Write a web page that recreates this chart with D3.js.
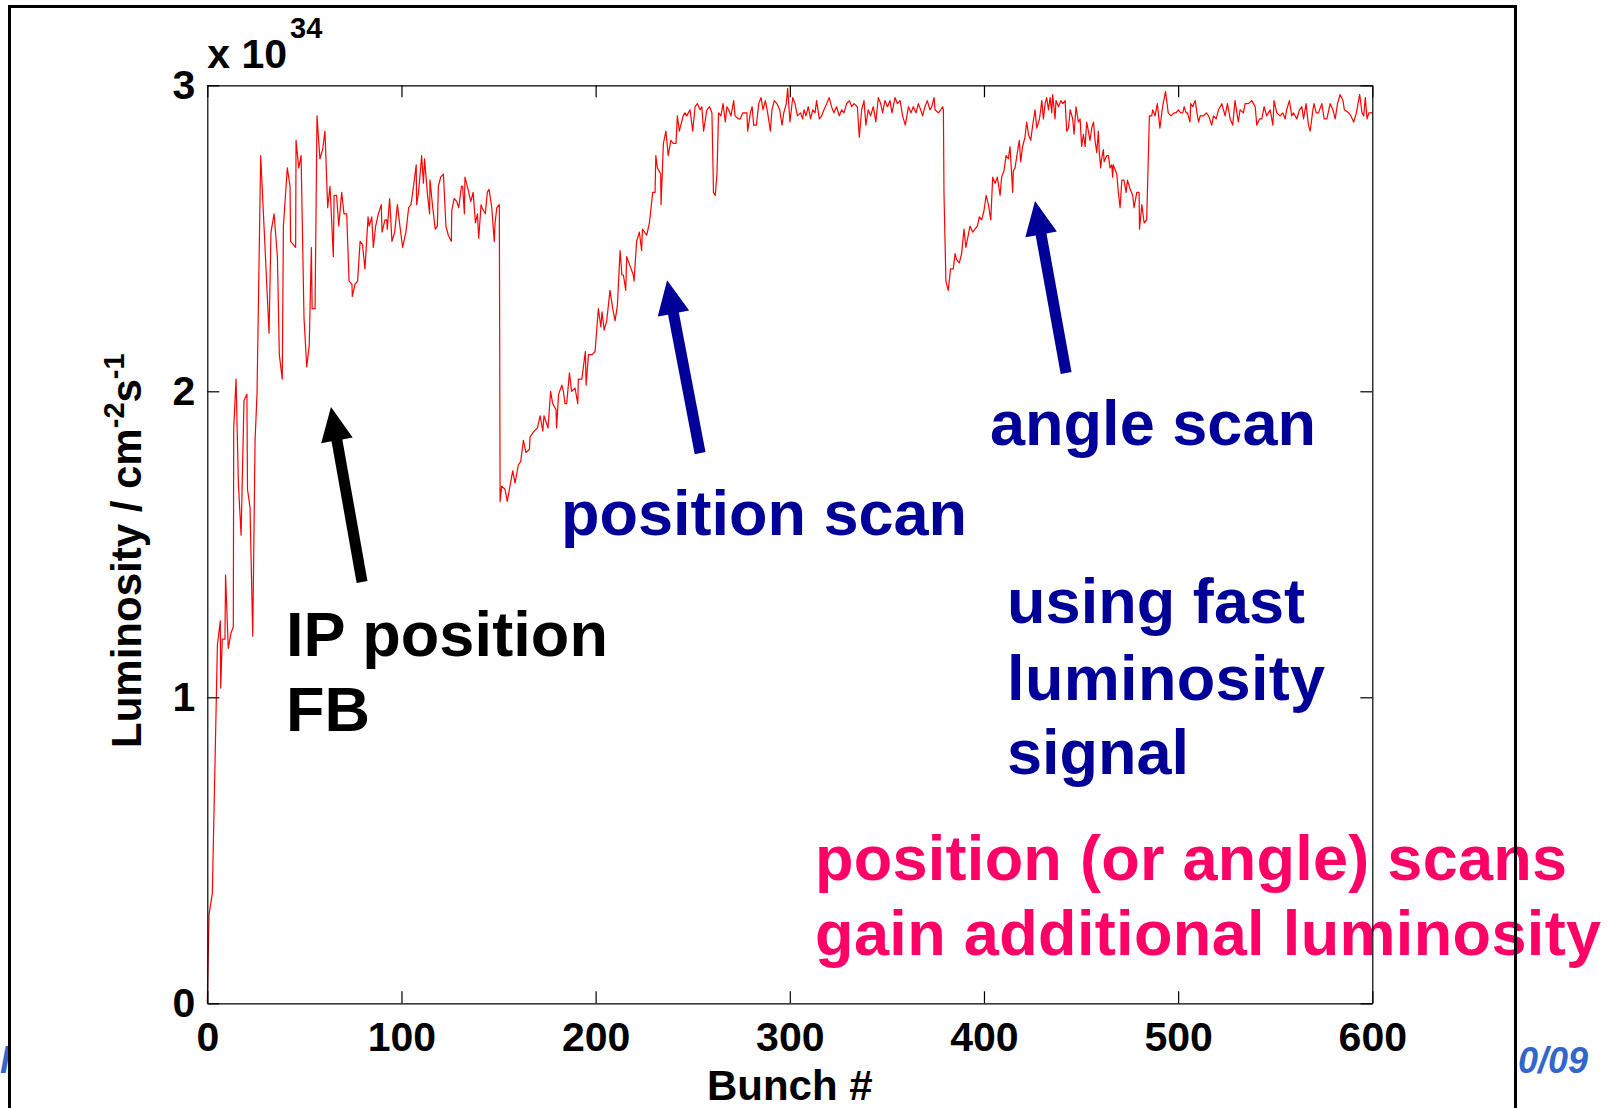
<!DOCTYPE html>
<html>
<head>
<meta charset="utf-8">
<title>Luminosity vs bunch number</title>
<script src="https://cdn.jsdelivr.net/npm/d3@7"></script>
<style>
  html, body { margin: 0; padding: 0; background: #fff; }
  svg { display: block; }
  text { font-family: "Liberation Sans", Arial, Helvetica, sans-serif; font-weight: bold; }
</style>
</head>
<body>
<svg id="chart" width="1614" height="1108"></svg>
<script>
// Luminosity per bunch (units of 1e34 cm^-2 s^-1), sampled along the bunch train.
const bunch = [
  0, 0.9, 2.6, 3.6, 5.2, 6.7, 6.9, 7.7, 9.1, 9.4, 10.8, 12.2, 13.4, 13.6, 14.8, 16.0, 17.4, 18.9, 20.4, 20.7,
  22.0, 23.4, 24.6, 25.6, 27.5, 31.8, 32.8, 34.4, 36.1, 37.1, 38.6, 39.2, 41.2, 42.6, 42.9, 45.5, 45.7, 47.1, 48.3, 49.8,
  51.2, 52.5, 53.6, 54.0, 55.5, 56.5, 58.0, 59.4, 60.6, 62.0, 63.2, 64.9, 65.3, 66.6, 67.7, 69.2, 70.4, 71.8, 73.0, 74.5,
  74.7, 76.1, 77.4, 78.7, 79.9, 81.2, 82.8, 83.4, 84.7, 85.5, 86.7, 88.1, 89.6, 90.0, 91.5, 92.4, 92.7, 93.9, 95.1, 96.5,
  97.9, 99.2, 100.6, 102.3, 103.7, 104.9, 106.4, 107.6, 107.8, 108.8, 110.4, 111.3, 111.9, 113.3, 114.5, 114.7, 116.1, 117.4, 118.5, 119.0,
  120.2, 121.6, 122.9, 124.1, 125.7, 125.9, 127.1, 128.5, 129.5, 130.9, 131.5, 132.4, 132.7, 134.3, 135.7, 136.9, 138.1, 139.1, 139.8, 141.0,
  141.5, 143.2, 144.2, 145.1, 146.5, 147.8, 148.2, 149.1, 150.4, 150.8, 151.6, 153.3, 154.5, 155.6, 157.3, 158.5, 160.2, 161.4, 162.8, 164.1,
  165.9, 166.2, 168.3, 170.0, 171.4, 172.8, 173.4, 175.5, 176.8, 177.9, 179.6, 179.9, 180.9, 182.6, 183.4, 184.2, 185.1, 186.5, 187.6, 189.4,
  190.8, 191.1, 192.9, 194.7, 195.1, 196.3, 198.2, 199.7, 201.4, 202.7, 203.3, 204.4, 205.7, 207.4, 208.8, 210.0, 211.2, 212.6, 213.5, 214.3,
  215.5, 216.0, 217.7, 219.4, 219.8, 221.1, 222.5, 223.7, 224.1, 226.3, 227.7, 229.4, 230.6, 231.0, 231.8, 233.5, 233.7, 234.9, 236.2, 237.4,
  238.7, 240.0, 241.4, 242.1, 243.1, 244.3, 245.1, 246.0, 246.9, 248.6, 250.0, 251.2, 252.4, 253.8, 254.7, 255.6, 257.3, 258.7, 259.9, 260.7,
  261.6, 262.5, 263.3, 264.5, 265.6, 266.8, 267.6, 268.5, 269.7, 271.1, 271.8, 273.6, 274.5, 275.7, 277.1, 277.9, 278.3, 279.7, 280.6, 281.4,
  282.8, 284.0, 285.2, 286.2, 287.4, 288.6, 290.0, 290.8, 292.0, 293.4, 294.8, 296.0, 296.9, 298.2, 298.9, 300.1, 301.5, 302.7, 303.9, 305.6,
  306.6, 307.3, 308.3, 309.5, 310.7, 311.8, 313.0, 313.8, 315.2, 316.4, 317.6, 319.0, 320.3, 321.5, 322.7, 324.1, 325.5, 326.7, 327.9, 329.3,
  330.7, 331.9, 333.1, 334.8, 335.8, 337.0, 338.2, 339.2, 340.4, 341.6, 343.0, 344.3, 345.6, 346.8, 347.8, 349.0, 350.3, 351.6, 352.6, 354.2,
  355.4, 356.8, 358.1, 359.5, 361.1, 362.4, 363.6, 365.0, 366.2, 367.4, 368.4, 369.6, 370.8, 372.2, 373.1, 374.3, 374.8, 376.5, 377.7, 378.7,
  379.1, 379.4, 380.4, 381.6, 382.8, 384.2, 385.1, 385.9, 387.3, 388.5, 389.7, 390.7, 391.9, 392.8, 394.2, 395.4, 396.6, 397.6, 398.8, 400.0,
  401.1, 402.3, 403.5, 404.5, 405.7, 406.9, 408.3, 409.1, 410.3, 411.4, 412.6, 413.4, 414.8, 415.1, 416.0, 417.2, 418.2, 418.9, 419.9, 421.1,
  422.0, 422.9, 424.1, 425.1, 426.3, 427.2, 428.6, 429.8, 430.6, 431.5, 432.3, 433.2, 434.1, 434.9, 435.4, 436.6, 437.1, 438.4, 439.6, 440.6,
  441.8, 442.6, 443.5, 444.4, 445.7, 446.4, 447.4, 448.6, 449.5, 450.3, 451.2, 452.1, 452.9, 453.8, 454.6, 455.5, 456.4, 457.2, 458.1, 458.9,
  459.4, 460.1, 460.6, 461.5, 461.9, 463.2, 464.1, 464.9, 465.8, 466.3, 466.6, 468.4, 469.2, 470.1, 471.0, 472.1, 473.2, 473.9, 475.3, 476.6,
  477.3, 478.7, 479.9, 480.1, 481.3, 482.5, 483.8, 485.2, 486.4, 486.9, 488.1, 489.3, 490.6, 492.0, 493.5, 494.9, 496.3, 497.9, 498.9, 500.1,
  501.3, 502.4, 503.1, 504.1, 504.8, 506.1, 506.5, 507.5, 508.8, 509.7, 510.5, 511.4, 513.1, 514.5, 515.7, 517.3, 518.2, 519.6, 520.8, 522.5,
  524.2, 525.4, 526.8, 528.1, 529.3, 531.0, 531.9, 533.6, 534.5, 536.2, 537.9, 538.8, 539.7, 540.5, 541.9, 543.1, 544.3, 545.6, 547.4, 548.8,
  549.4, 550.8, 552.5, 553.9, 555.1, 555.9, 557.3, 558.5, 559.4, 561.1, 562.5, 563.7, 564.6, 565.9, 567.1, 568.0, 569.4, 570.0, 571.1, 572.3,
  574.0, 575.2, 576.6, 578.3, 579.7, 580.9, 582.1, 583.4, 584.9, 585.6, 587.8, 589.0, 590.4, 591.8, 593.5, 594.7, 595.6, 596.4, 597.3, 598.2,
  599.4, 600.0
];
const lumi = [
  0.00, 0.29, 0.36, 0.67, 1.17, 1.25, 1.03, 1.19, 1.19, 1.40, 1.16, 1.21, 1.23, 1.88, 2.04, 1.70, 1.53, 1.97, 1.99, 1.68,
  1.62, 1.20, 1.84, 1.99, 2.77, 2.19, 2.52, 2.58, 2.44, 2.12, 2.04, 2.54, 2.73, 2.67, 2.49, 2.47, 2.82, 2.73, 2.77, 2.24,
  2.08, 2.15, 2.47, 2.27, 2.27, 2.90, 2.76, 2.79, 2.85, 2.60, 2.67, 2.44, 2.64, 2.64, 2.54, 2.65, 2.58, 2.58, 2.36, 2.35,
  2.31, 2.35, 2.36, 2.49, 2.48, 2.40, 2.57, 2.54, 2.57, 2.47, 2.54, 2.58, 2.61, 2.52, 2.56, 2.56, 2.53, 2.63, 2.49, 2.52,
  2.61, 2.54, 2.47, 2.52, 2.60, 2.61, 2.68, 2.74, 2.61, 2.65, 2.77, 2.68, 2.76, 2.65, 2.58, 2.69, 2.60, 2.53, 2.54, 2.67,
  2.70, 2.71, 2.54, 2.51, 2.49, 2.59, 2.63, 2.62, 2.60, 2.67, 2.67, 2.58, 2.70, 2.66, 2.62, 2.65, 2.55, 2.58, 2.50, 2.61,
  2.60, 2.58, 2.65, 2.66, 2.60, 2.49, 2.55, 2.60, 2.61, 1.64, 1.69, 1.68, 1.64, 1.68, 1.74, 1.70, 1.76, 1.77, 1.84, 1.80,
  1.81, 1.85, 1.87, 1.88, 1.92, 1.87, 1.92, 1.88, 2.00, 1.96, 1.94, 1.88, 1.99, 2.02, 2.00, 1.96, 1.96, 2.06, 2.00, 2.01,
  1.96, 2.04, 2.04, 2.13, 2.02, 2.12, 2.12, 2.13, 2.27, 2.21, 2.26, 2.20, 2.23, 2.33, 2.27, 2.23, 2.28, 2.46, 2.38, 2.38,
  2.33, 2.44, 2.41, 2.38, 2.36, 2.49, 2.52, 2.46, 2.53, 2.51, 2.55, 2.65, 2.65, 2.77, 2.73, 2.71, 2.61, 2.81, 2.85, 2.77,
  2.82, 2.81, 2.81, 2.90, 2.85, 2.88, 2.90, 2.91, 2.90, 2.92, 2.85, 2.93, 2.94, 2.92, 2.93, 2.85, 2.92, 2.93, 2.91, 2.65,
  2.64, 2.71, 2.91, 2.90, 2.94, 2.88, 2.93, 2.92, 2.90, 2.95, 2.90, 2.89, 2.89, 2.91, 2.91, 2.91, 2.85, 2.91, 2.93, 2.87,
  2.87, 2.94, 2.96, 2.92, 2.95, 2.91, 2.85, 2.92, 2.95, 2.94, 2.92, 2.87, 2.91, 2.94, 2.99, 2.88, 2.96, 2.94, 2.90, 2.91,
  2.89, 2.92, 2.90, 2.93, 2.89, 2.92, 2.91, 2.95, 2.89, 2.90, 2.92, 2.94, 2.96, 2.93, 2.91, 2.93, 2.90, 2.92, 2.91, 2.94,
  2.95, 2.93, 2.94, 2.93, 2.83, 2.92, 2.95, 2.87, 2.92, 2.90, 2.93, 2.88, 2.96, 2.94, 2.91, 2.95, 2.93, 2.95, 2.91, 2.96,
  2.94, 2.95, 2.90, 2.87, 2.93, 2.91, 2.93, 2.91, 2.94, 2.92, 2.90, 2.93, 2.95, 2.92, 2.93, 2.96, 2.92, 2.91, 2.92, 2.93,
  2.92, 2.65, 2.36, 2.33, 2.40, 2.40, 2.45, 2.43, 2.42, 2.45, 2.53, 2.47, 2.51, 2.54, 2.52, 2.53, 2.54, 2.57, 2.56, 2.59,
  2.64, 2.61, 2.56, 2.70, 2.68, 2.70, 2.64, 2.70, 2.72, 2.77, 2.76, 2.80, 2.65, 2.72, 2.73, 2.78, 2.82, 2.75, 2.80, 2.83,
  2.88, 2.84, 2.82, 2.87, 2.92, 2.86, 2.89, 2.95, 2.89, 2.94, 2.96, 2.92, 2.96, 2.91, 2.97, 2.89, 2.95, 2.93, 2.95, 2.94,
  2.95, 2.85, 2.86, 2.92, 2.89, 2.84, 2.93, 2.88, 2.89, 2.80, 2.84, 2.80, 2.88, 2.85, 2.82, 2.86, 2.88, 2.82, 2.78, 2.85,
  2.78, 2.73, 2.76, 2.79, 2.75, 2.77, 2.77, 2.73, 2.74, 2.70, 2.74, 2.71, 2.65, 2.60, 2.69, 2.69, 2.65, 2.69, 2.66, 2.64,
  2.60, 2.65, 2.65, 2.53, 2.61, 2.55, 2.56, 2.90, 2.90, 2.92, 2.90, 2.94, 2.86, 2.93, 2.98, 2.91, 2.90, 2.91, 2.91, 2.92,
  2.91, 2.91, 2.93, 2.91, 2.91, 2.88, 2.94, 2.93, 2.95, 2.91, 2.88, 2.90, 2.90, 2.91, 2.90, 2.87, 2.90, 2.89, 2.92, 2.94,
  2.90, 2.94, 2.89, 2.87, 2.95, 2.88, 2.92, 2.91, 2.94, 2.94, 2.95, 2.94, 2.93, 2.87, 2.89, 2.89, 2.93, 2.90, 2.92, 2.87,
  2.95, 2.91, 2.90, 2.91, 2.89, 2.92, 2.95, 2.90, 2.91, 2.89, 2.92, 2.93, 2.89, 2.94, 2.87, 2.85, 2.92, 2.94, 2.91, 2.91,
  2.94, 2.89, 2.89, 2.94, 2.92, 2.89, 2.94, 2.97, 2.95, 2.92, 2.91, 2.90, 2.88, 2.91, 2.97, 2.91, 2.90, 2.96, 2.89, 2.91,
  2.91, 2.91
];

const xTicks = [0, 100, 200, 300, 400, 500, 600];
const yTicks = [0, 1, 2, 3];

// Annotations placed in data coordinates (bunch, luminosity); w is the set text width, if any.
const labels = [
  { text: "IP position", b: 40.5, v: 1.135, w: 322, color: "#000000" },
  { text: "FB", b: 40.5, v: 0.890, w: null, color: "#000000" },
  { text: "position scan", b: 182.2, v: 1.530, w: 406, color: "#000099" },
  { text: "angle scan", b: 403.1, v: 1.824, w: 326, color: "#000099" },
  { text: "using fast", b: 411.9, v: 1.243, w: 298, color: "#000099" },
  { text: "luminosity", b: 411.9, v: 0.991, w: 318, color: "#000099" },
  { text: "signal", b: 411.9, v: 0.749, w: 182, color: "#000099" },
  { text: "position (or angle) scans", b: 313.0, v: 0.403, w: 752, color: "#ff0066" },
  { text: "gain additional luminosity", b: 313.0, v: 0.158, w: 786, color: "#ff0066" }
];
const arrows = [
  { from: [79.7, 1.377], to: [63.7, 1.949], color: "#000000" },
  { from: [253.8, 1.798], to: [236.8, 2.363], color: "#000099" },
  { from: [442.3, 2.060], to: [426.3, 2.622], color: "#000099" }
];

const svg = d3.select("#chart");
const W = 1614, H = 1108;
const plot = { left: 207.3, right: 1372.3, top: 85.3, bottom: 1003.3 };

const x = d3.scaleLinear().domain([0, 600]).range([plot.left, plot.right]);
const y = d3.scaleLinear().domain([0, 3]).range([plot.bottom, plot.top]);

// Slide footer fragments peeking out beside the figure.
svg.append("text").attr("x", 1518).attr("y", 1073)
  .attr("font-size", 36).attr("font-style", "italic").attr("fill", "#3366cc").text("0/09");
svg.append("text").attr("x", 10).attr("y", 1073).attr("text-anchor", "end")
  .attr("font-size", 36).attr("font-style", "italic").attr("fill", "#3366cc").text("l");

// Figure background
svg.append("rect").attr("x", 9).attr("y", 6).attr("width", 1507).attr("height", H)
  .attr("fill", "#fff");

// Data trace
const pts = bunch.map((b, i) => [b, lumi[i]]);
svg.append("path")
  .datum(pts)
  .attr("fill", "none")
  .attr("stroke", "#ff0000")
  .attr("stroke-width", 1.2)
  .attr("stroke-linejoin", "round")
  .attr("d", d3.line().x(d => x(d[0])).y(d => y(d[1])));

// Annotation text
labels.forEach(l => {
  const t = svg.append("text")
    .attr("x", x(l.b)).attr("y", y(l.v))
    .attr("font-size", 63)
    .attr("fill", l.color)
    .text(l.text);
  if (l.w) t.attr("textLength", l.w).attr("lengthAdjust", "spacing");
});

// Annotation arrows
function arrowPath(x1, y1, x2, y2) {
  const dx = x2 - x1, dy = y2 - y1, len = Math.hypot(dx, dy);
  const ux = dx / len, uy = dy / len, nx = -uy, ny = ux;
  const hl = 34, hw = 16, sw = 5.5;
  const bx = x2 - ux * hl, by = y2 - uy * hl;
  const p = [
    [x1 + nx * sw, y1 + ny * sw],
    [bx + nx * sw, by + ny * sw],
    [bx + nx * hw, by + ny * hw],
    [x2, y2],
    [bx - nx * hw, by - ny * hw],
    [bx - nx * sw, by - ny * sw],
    [x1 - nx * sw, y1 - ny * sw]
  ];
  return "M" + p.map(q => q.join(",")).join("L") + "Z";
}
arrows.forEach(a => {
  svg.append("path")
    .attr("d", arrowPath(x(a.from[0]), y(a.from[1]), x(a.to[0]), y(a.to[1])))
    .attr("fill", a.color);
});

// Axes: box with inward ticks on all four sides
function styleAxis(g) {
  g.attr("font-family", null).attr("font-size", null);
  g.selectAll("path.domain").attr("stroke", "#000").attr("stroke-width", 1.2);
  g.selectAll(".tick line").attr("stroke", "#000").attr("stroke-width", 1.2);
  g.selectAll(".tick text").attr("fill", "#000").attr("font-size", 41);
}
svg.append("g").attr("transform", `translate(0,${plot.bottom})`)
  .call(d3.axisBottom(x).tickValues(xTicks).tickSize(-12).tickSizeOuter(0).tickPadding(19).tickFormat(d3.format("d")))
  .call(styleAxis);
svg.append("g").attr("transform", `translate(0,${plot.top})`)
  .call(d3.axisTop(x).tickValues(xTicks).tickSize(-12).tickSizeOuter(0).tickFormat(""))
  .call(styleAxis);
svg.append("g").attr("transform", `translate(${plot.left},0)`)
  .call(d3.axisLeft(y).tickValues(yTicks).tickSize(-12).tickSizeOuter(0).tickPadding(12).tickFormat(d3.format("d")))
  .call(styleAxis);
svg.append("g").attr("transform", `translate(${plot.right},0)`)
  .call(d3.axisRight(y).tickValues(yTicks).tickSize(-12).tickSizeOuter(0).tickFormat(""))
  .call(styleAxis);

// Exponent multiplier
const mult = svg.append("text").attr("x", plot.left).attr("y", 68).attr("font-size", 41);
mult.append("tspan").text("x 10");
mult.append("tspan").attr("font-size", 29).attr("dy", -30).attr("dx", 3).text("34");

// Axis titles
svg.append("text")
  .attr("x", x(300)).attr("y", 1100)
  .attr("text-anchor", "middle").attr("font-size", 42)
  .text("Bunch #");

const yt = svg.append("text")
  .attr("transform", "translate(141,748) rotate(-90)")
  .attr("font-size", 42);
yt.append("tspan").text("Luminosity / cm");
yt.append("tspan").attr("font-size", 29).attr("dy", -17).text("-2");
yt.append("tspan").attr("dy", 17).text("s");
yt.append("tspan").attr("font-size", 29).attr("dy", -17).text("-1");

// Figure frame
svg.append("rect").attr("x", 9.5).attr("y", 6.5).attr("width", 1506).attr("height", 1300)
  .attr("fill", "none").attr("stroke", "#000").attr("stroke-width", 3);
</script>
</body>
</html>
